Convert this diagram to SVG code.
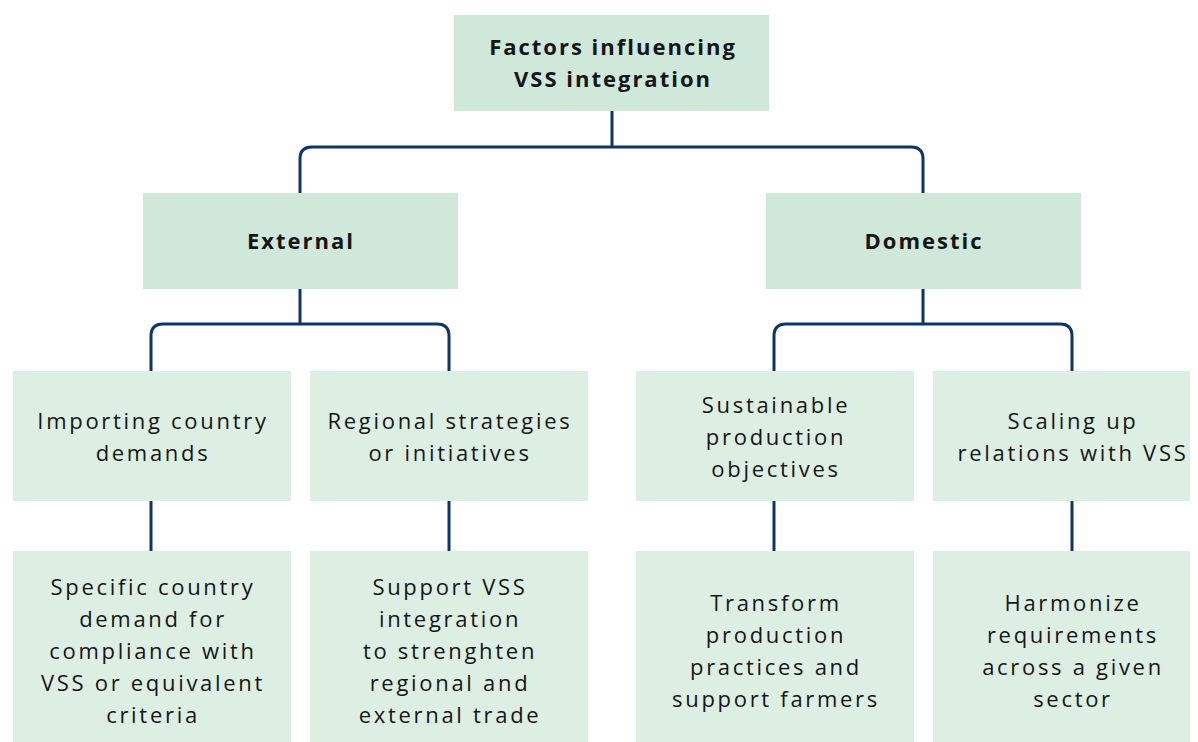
<svg xmlns="http://www.w3.org/2000/svg" width="1198" height="742" viewBox="0 0 1198 742">
  <style>
    .hd { fill: #cfe8d9; }
    .bx { fill: #ddeee3; }
    .t { font-family: "Open Sans", "Liberation Sans", sans-serif; font-size: 22px; fill: #161616; text-anchor: middle; letter-spacing: 2.7px; }
    .b { font-weight: 700; letter-spacing: 2px; }
    .ln { fill: none; stroke: #0d3568; stroke-width: 3; stroke-linejoin: round; }
  </style>
  <rect width="1198" height="742" fill="#ffffff"/>

  <!-- connectors -->
  <g id="connectors">
    <path class="ln" d="M612 110 V147"/>
    <path class="ln" d="M300 193 V159 Q300 147 312 147 H911 Q923 147 923 159 V193"/>
    <path class="ln" d="M300 289 V324"/>
    <path class="ln" d="M151 371 V336 Q151 324 163 324 H437 Q449 324 449 336 V371"/>
    <path class="ln" d="M923 289 V324"/>
    <path class="ln" d="M774 371 V336 Q774 324 786 324 H1060 Q1072 324 1072 336 V371"/>
    <path class="ln" d="M151 501 V551"/>
    <path class="ln" d="M449 501 V551"/>
    <path class="ln" d="M774 501 V551"/>
    <path class="ln" d="M1072 501 V551"/>
  </g>

  <g id="root">
    <rect class="hd" x="454" y="15" width="315" height="96"/>
    <text class="t b" x="613" y="55">Factors influencing</text>
    <text class="t b" x="613" y="87">VSS integration</text>
  </g>

  <g id="external">
    <rect class="hd" x="143" y="193" width="315" height="96"/>
    <text class="t b" x="301" y="249">External</text>
  </g>

  <g id="domestic">
    <rect class="hd" x="766" y="193" width="315" height="96"/>
    <text class="t b" x="924" y="249">Domestic</text>
  </g>

  <g id="importing">
    <rect class="bx" x="13" y="371" width="278" height="130"/>
    <text class="t" x="153" y="429">Importing country</text>
    <text class="t" x="153" y="461">demands</text>
  </g>

  <g id="regional">
    <rect class="bx" x="310" y="371" width="278" height="130"/>
    <text class="t" x="450" y="429">Regional strategies</text>
    <text class="t" x="450" y="461">or initiatives</text>
  </g>

  <g id="sustainable">
    <rect class="bx" x="636" y="371" width="278" height="130"/>
    <text class="t" x="776" y="413">Sustainable</text>
    <text class="t" x="776" y="445">production</text>
    <text class="t" x="776" y="477">objectives</text>
  </g>

  <g id="scaling">
    <rect class="bx" x="933" y="371" width="257" height="130"/>
    <text class="t" x="1073" y="429">Scaling up</text>
    <text class="t" x="1073" y="461">relations with VSS</text>
  </g>

  <g id="specific">
    <rect class="bx" x="13" y="551" width="278" height="191"/>
    <text class="t" x="153" y="595">Specific country</text>
    <text class="t" x="153" y="627">demand for</text>
    <text class="t" x="153" y="659">compliance with</text>
    <text class="t" x="153" y="691">VSS or equivalent</text>
    <text class="t" x="153" y="723">criteria</text>
  </g>

  <g id="support">
    <rect class="bx" x="310" y="551" width="278" height="191"/>
    <text class="t" x="450" y="595">Support VSS</text>
    <text class="t" x="450" y="627">integration</text>
    <text class="t" x="450" y="659">to strenghten</text>
    <text class="t" x="450" y="691">regional and</text>
    <text class="t" x="450" y="723">external trade</text>
  </g>

  <g id="transform">
    <rect class="bx" x="636" y="551" width="278" height="191"/>
    <text class="t" x="776" y="611">Transform</text>
    <text class="t" x="776" y="643">production</text>
    <text class="t" x="776" y="675">practices and</text>
    <text class="t" x="776" y="707">support farmers</text>
  </g>

  <g id="harmonize">
    <rect class="bx" x="933" y="551" width="257" height="191"/>
    <text class="t" x="1073" y="611">Harmonize</text>
    <text class="t" x="1073" y="643">requirements</text>
    <text class="t" x="1073" y="675">across a given</text>
    <text class="t" x="1073" y="707">sector</text>
  </g>
</svg>
